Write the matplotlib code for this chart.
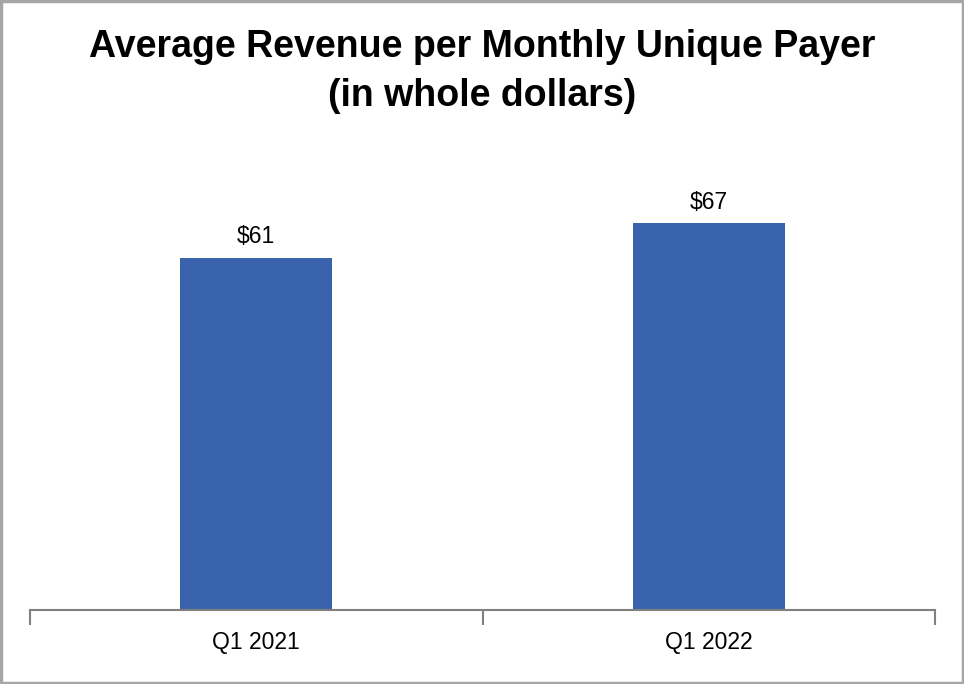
import matplotlib
matplotlib.use("Agg")
import matplotlib.pyplot as plt
from matplotlib.patches import Rectangle

categories = ["Q1 2021", "Q1 2022"]
values = [61, 67]
labels = ["$61", "$67"]

plt.rcParams['font.family'] = ['Liberation Sans', 'DejaVu Sans']

fig = plt.figure(figsize=(9.64, 6.84), dpi=100)
fig.patches.append(Rectangle((0.0015, 0.002), 0.997, 0.996, transform=fig.transFigure,
                             fill=False, edgecolor='#a6a6a6', linewidth=2.5))

ax = fig.add_axes([30/964, 1-610/684, 905/964, 0.675])
x = list(range(len(categories)))
bars = ax.bar(x, values, width=0.336, color='#3A63AD')
ax.set_xlim(-0.5, len(categories)-0.5)
ax.set_ylim(0, 80)
for xi, v, lab in zip(x, values, labels):
    ax.annotate(lab, (xi, v), xytext=(0, 7), textcoords='offset points',
                ha='center', va='bottom', fontsize=16.5)

for s in ['top', 'right', 'left']:
    ax.spines[s].set_visible(False)
ax.spines['bottom'].set_color('#808080')
ax.spines['bottom'].set_linewidth(1.5)
ax.set_yticks([])
ax.set_xticks([-0.5, 0.5, 1.5], minor=False)
ax.set_xticklabels([])
ax.tick_params(axis='x', which='major', length=11, width=1.5, color='#808080')
ax.set_xticks(x, minor=True)
ax.set_xticklabels(categories, minor=True, fontsize=16.5)
ax.tick_params(axis='x', which='minor', length=0, pad=15)

fig.text(0.5, 1-47/684, "Average Revenue per Monthly Unique Payer", ha='center', va='center',
         fontsize=27, fontweight='bold')
fig.text(0.5, 1-96/684, "(in whole dollars)", ha='center', va='center',
         fontsize=27, fontweight='bold')

fig.savefig("out.png", dpi=100)
